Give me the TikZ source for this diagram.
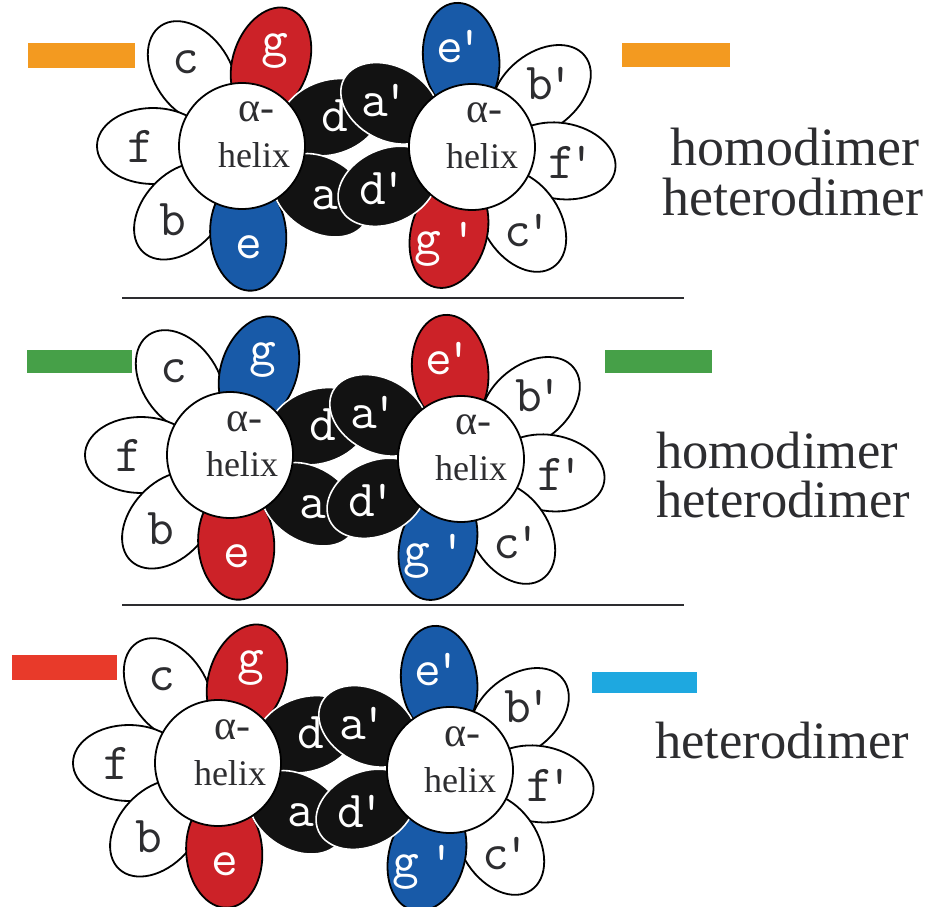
\documentclass[tikz,border=0pt]{standalone}
\usepackage{fontspec}
\setmainfont{Liberation Serif}
\definecolor{pred}{RGB}{204,34,40}
\definecolor{pblue}{RGB}{24,90,168}
\definecolor{barorange}{RGB}{243,154,32}
\definecolor{bargreen}{RGB}{70,160,72}
\definecolor{barred}{RGB}{232,58,42}
\definecolor{barcyan}{RGB}{30,168,224}
\definecolor{inkgray}{RGB}{45,45,48}
\newcommand{\opetal}[5]{%
  \draw[#2, rotate=#1] (89,0) ellipse [x radius=56, y radius=38];
  \node[#3] (#4) at (#1:101) {#5};}
\newcommand{\kpetal}[3]{%
  \draw[kpet, rotate=#1] (93,0) ellipse [x radius=52, y radius=37];
  \node[wlab] (#2) at (#1:98) {#3};}
\newcommand{\pr}{\kern-0.12em\textquotesingle}
\newcommand{\helixpanel}[9]{%
  \begin{scope}[shift={(#2,#3)}]
    \opetal{124}{wpet}{dlab}{#1c}{c}
    \opetal{180}{wpet}{dlab}{#1f}{f}
    \opetal{-133}{wpet}{dlab}{#1b}{b}
    \opetal{71}{#6}{wlab}{#1g}{g}
    \opetal{-86}{#7}{wlab}{#1e}{e}
    \kpetal{18}{#1d}{d}
    \kpetal{-32}{#1a}{a}
  \end{scope}
  \begin{scope}[shift={(#4,#5)}]
    \opetal{39}{wpet}{dlab}{#1bp}{b\pr}
    \opetal{-9}{wpet}{dlab}{#1fp}{f\pr}
    \opetal{-56}{wpet}{dlab}{#1cp}{c\pr}
    \opetal{97}{#8}{wlab}{#1ep}{e\pr}
    \opetal{-105}{#9}{wlab}{#1gp}{g\,\textquotesingle}
    \kpetal{152}{#1ap}{a\pr}
    \kpetal{205}{#1dp}{d\pr}
  \end{scope}
  \begin{scope}[shift={(#2,#3)}]
    \node[helixc] (#1L) at (0,0) {};
    \node[atxt] (#1La) at (14,24) {α-};
    \node[htxt] (#1Lh) at (12,-22) {helix};
  \end{scope}
  \begin{scope}[shift={(#4,#5)}]
    \node[helixc] (#1R) at (0,0) {};
    \node[atxt] (#1Ra) at (12,24) {α-};
    \node[htxt] (#1Rh) at (10,-22) {helix};
  \end{scope}
}
\begin{document}
\begin{tikzpicture}[x=1pt,y=1pt,
  wpet/.style={draw=black, line width=1.8pt, fill=white},
  rpet/.style={wpet, fill=pred},
  bpet/.style={wpet, fill=pblue},
  kpet/.style={draw=white, line width=1.6pt, fill=black!93},
  helixc/.style={circle, draw=black, line width=1.8pt, fill=white, minimum size=126pt, inner sep=0pt},
  dlab/.style={font=\ttfamily\fontsize{52}{52}\selectfont, text=inkgray, inner sep=0pt},
  wlab/.style={dlab, text=white},
  htxt/.style={font=\fontsize{36}{36}\selectfont, text=inkgray, anchor=base, inner sep=0pt},
  atxt/.style={font=\fontsize{42}{42}\selectfont, text=inkgray, anchor=base, inner sep=0pt},
  sidetxt/.style={font=\fontsize{54}{54}\selectfont, text=inkgray, anchor=base west, inner sep=0pt},
  sidetxtb/.style={font=\fontsize{52.5}{52.5}\selectfont, text=inkgray, anchor=base west, inner sep=0pt},
  sep/.style={draw=inkgray, line width=1.6pt}
]
\useasboundingbox (0,0) rectangle (931,906);
% panel 1
\fill[barorange] (28,838) rectangle (135,863);
\fill[barorange] (622,839) rectangle (730,863);
\helixpanel{p1}{242}{760}{472}{759}{rpet}{bpet}{bpet}{rpet}
\node[sidetxt] (t1a) at (670,740) {homodimer};
\node[sidetxt] (t1b) at (662,690) {heterodimer};
\coordinate (s1a) at (122,608);
\coordinate (s1b) at (684,608);
\draw[sep] (s1a) -- (s1b);
% panel 2
\fill[bargreen] (27,533) rectangle (132,556);
\fill[bargreen] (605,533) rectangle (712,556);
\helixpanel{p2}{230}{451}{461}{447}{bpet}{rpet}{rpet}{bpet}
\node[sidetxtb] (t2a) at (656,438) {homodimer};
\node[sidetxtb] (t2b) at (656,389) {heterodimer};
\coordinate (s2a) at (122,301);
\coordinate (s2b) at (684,301);
\draw[sep] (s2a) -- (s2b);
% panel 3
\fill[barred] (12,226) rectangle (117,251);
\fill[barcyan] (592,213) rectangle (697,234);
\helixpanel{p3}{218}{143}{450}{136}{rpet}{rpet}{bpet}{bpet}
\node[sidetxtb] (t3a) at (655,148) {heterodimer};
\end{tikzpicture}
\end{document}
